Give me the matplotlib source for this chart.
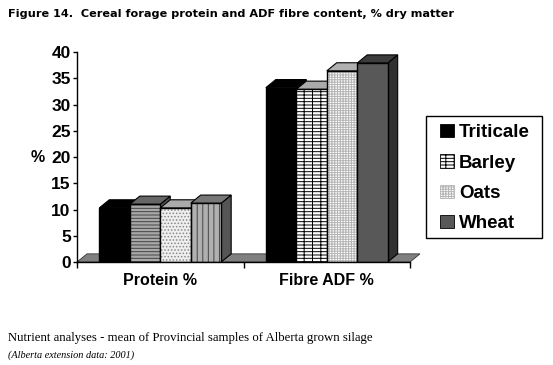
import matplotlib
matplotlib.use('Agg')
import matplotlib.pyplot as plt
from matplotlib.patches import Polygon, Patch, Rectangle

# values
groups = ['Protein %', 'Fibre ADF %']
series = ['Triticale', 'Barley', 'Oats', 'Wheat']
triticale = [10.3, 33.2]
barley = [11.0, 32.9]
oats = [10.3, 36.4]
wheat = [11.2, 37.9]
values = [triticale, barley, oats, wheat]
y_ticks = list(range(0, 45, 5))

# face, hatch, hatch colour, top colour, side colour - one per bar, per group
styles = {
    'Triticale': [('black', None, 'black', 'black', 'black'),
                  ('black', None, 'black', 'black', 'black')],
    'Barley': [('#a8a8a8', '-----', '#444444', '#666666', '#555555'),
               ('white', '-----||', 'black', '#aaaaaa', '#555555')],
    'Oats': [('#eeeeee', '.....', '#888888', '#aaaaaa', '#777777'),
             ('white', '-------||||||', '#b4b4b4', '#b0b0b0', '#777777')],
    'Wheat': [('#b0b0b0', '|||', '#444444', '#777777', '#555555'),
              ('#585858', None, 'black', '#3c3c3c', '#303030')],
}

bar_w = 0.183
dx = 0.06   # 3d depth, x units
dy = 1.55   # 3d depth, y units

plt.rcParams['font.family'] = ['Liberation Sans', 'DejaVu Sans']
plt.rcParams['hatch.linewidth'] = 0.7

fig = plt.figure(figsize=(5.53, 3.65), dpi=100)
ax = fig.add_axes([77 / 553, 1 - 262 / 365, 333 / 553, 210 / 365])
ax.set_xlim(0, 2)
ax.set_ylim(0, 40)

# floor
ax.add_patch(Polygon([(0, 0), (2, 0), (2 + dx, dy), (dx, dy)], closed=True,
                     facecolor='#808080', edgecolor='#333333', lw=0.6,
                     clip_on=False, zorder=1))


def draw_bar(x, h, style):
    face, hatch, hcol, top, side = style
    ax.add_patch(Polygon([(x + bar_w, 0), (x + bar_w + dx, dy), (x + bar_w + dx, h + dy), (x + bar_w, h)],
                         closed=True, facecolor=side, edgecolor='black', lw=0.8, clip_on=False, zorder=2))
    ax.add_patch(Polygon([(x, h), (x + dx, h + dy), (x + bar_w + dx, h + dy), (x + bar_w, h)],
                         closed=True, facecolor=top, edgecolor='black', lw=0.8, clip_on=False, zorder=2))
    ax.bar(x, h, bar_w, align='edge', color=face, edgecolor=hcol, hatch=hatch, lw=0, zorder=2)
    ax.bar(x, h, bar_w, align='edge', fill=False, edgecolor='black', lw=1.0, zorder=2)


for g in range(len(groups)):
    for i, name in enumerate(series):
        x = g + 0.5 + (i - 2) * bar_w
        draw_bar(x, values[i][g], styles[name][g])

for s in ['top', 'right']:
    ax.spines[s].set_visible(False)
for s in ['left', 'bottom']:
    ax.spines[s].set_linewidth(1.0)
    ax.spines[s].set_zorder(5)

ax.set_yticks(y_ticks)
ax.set_yticklabels([str(t) for t in y_ticks], fontsize=12.5, fontweight='bold')
ax.set_xticks([0, 1, 2])
ax.set_xticklabels([])
ax.set_xticks([0.5, 1.5], minor=True)
ax.set_xticklabels(groups, minor=True, fontsize=11.5, fontweight='bold')
ax.tick_params(axis='y', length=3, width=1, pad=1.5)
ax.tick_params(axis='x', which='major', length=4, width=1)
ax.tick_params(axis='x', which='minor', length=0, pad=8)
fig.text(31 / 553, 1 - 157 / 365, '%', fontsize=11.5, fontweight='bold', ha='left', va='center')

# legend, frame drawn apart so its padding can differ per side
fig.add_artist(Rectangle((426 / 553, 1 - 238 / 365), 116 / 553, 122.5 / 365, transform=fig.transFigure,
                         facecolor='white', edgecolor='black', lw=1.0))
handles = []
for name in series:
    face, hatch, hcol, _, _ = styles[name][1]
    handles.append(Patch(facecolor=face, edgecolor=hcol, hatch=hatch, lw=0.6))
leg = fig.legend(handles, series, loc='upper left', bbox_to_anchor=(440 / 553, 1 - 124 / 365),
                 borderaxespad=0, frameon=False, handlelength=0.72, handleheight=0.72, handletextpad=0.3,
                 labelspacing=0.7, borderpad=0, prop={'size': 13.5, 'weight': 'bold'})

fig.text(8 / 553, 1 - 14 / 365, 'Figure 14.  Cereal forage protein and ADF fibre content, % dry matter',
         fontsize=8.15, fontweight='bold', family=['DejaVu Sans'], va='center')
fig.text(8 / 553, 1 - 338 / 365, 'Nutrient analyses - mean of Provincial samples of Alberta grown silage',
         fontsize=9.2, family=['Liberation Serif'], va='center')
fig.text(8 / 553, 1 - 355 / 365, '(Alberta extension data: 2001)',
         fontsize=7.4, style='italic', family=['Liberation Serif'], va='center')

fig.savefig('out.png', dpi=100)
